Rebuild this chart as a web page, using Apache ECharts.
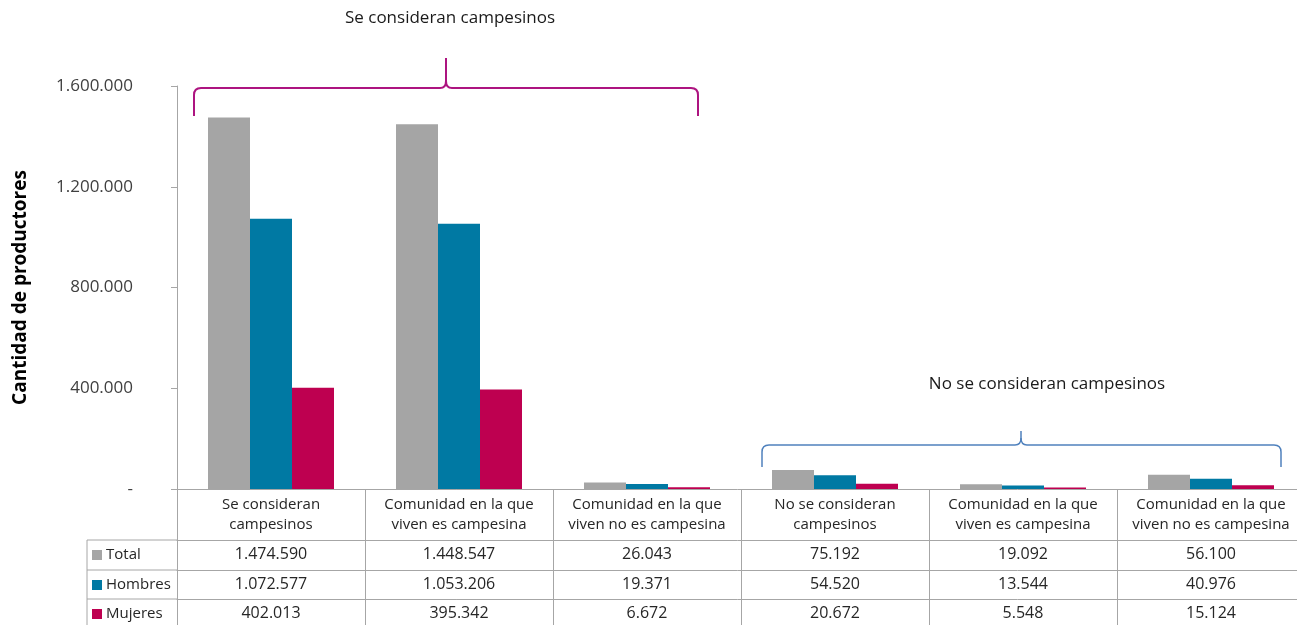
<!DOCTYPE html>
<html>
<head>
<meta charset="utf-8">
<script src="https://cdn.jsdelivr.net/npm/echarts@6/dist/echarts.min.js"></script>
<style>
  html, body { margin: 0; padding: 0; background: #fff; }
  #chart { width: 1297px; height: 625px; }
</style>
</head>
<body>
<div id="chart"></div>
<script>
// categorías (con salto de línea como en la tabla del original)
const categorias = [
  "Se consideran\ncampesinos",
  "Comunidad en la que\nviven es campesina",
  "Comunidad en la que\nviven no es campesina",
  "No se consideran\ncampesinos",
  "Comunidad en la que\nviven es campesina",
  "Comunidad en la que\nviven no es campesina"
];
const total   = [1474590, 1448547, 26043, 75192, 19092, 56100];
const hombres = [1072577, 1053206, 19371, 54520, 13544, 40976];
const mujeres = [402013, 395342, 6672, 20672, 5548, 15124];
const series_nombres = ["Total", "Hombres", "Mujeres"];
const yTicks = { min: 0, max: 1600000, interval: 400000 };

const colores = ["#A5A5A5", "#0079A3", "#BE0050"];
const gris = "#A6A6A6";
const fuente = "'Open Sans', 'Noto Sans', sans-serif";

function fmt(n) {
  return String(n).replace(/\B(?=(\d{3})+(?!\d))/g, ".");
}

const chart = echarts.init(document.getElementById("chart"));
const filas = [total, hombres, mujeres];
const offsets = [51, 81, 110];

const xAxes = [{
  type: "category",
  data: categorias,
  axisLine: { lineStyle: { color: gris, width: 1 } },
  axisTick: { show: true, length: 136, lineStyle: { color: gris } },
  axisLabel: {
    interval: 0, margin: 6, color: "#262626", fontSize: 15,
    lineHeight: 20, fontFamily: fuente
  }
}];
filas.forEach((fila, i) => {
  xAxes.push({
    type: "category",
    data: categorias,
    position: "bottom",
    offset: offsets[i],
    axisLine: { lineStyle: { color: gris, width: 1 } },
    axisTick: { show: false },
    axisLabel: {
      interval: 0, margin: 6, color: "#262626", fontSize: 16,
      fontFamily: fuente,
      formatter: (v, idx) => fmt(fila[idx])
    }
  });
});

// columna de leyenda de la tabla
const leyenda = [
  { type: "line", shape: { x1: 87, y1: 540, x2: 87, y2: 625 }, style: { stroke: gris, lineWidth: 1 } }
];
[540, 570, 599].forEach((y, i) => {
  leyenda.push({ type: "line", shape: { x1: 87, y1: y, x2: 177, y2: y }, style: { stroke: gris, lineWidth: 1 } });
  leyenda.push({ type: "rect", shape: { x: 92, y: y + 10, width: 10, height: 10 }, style: { fill: colores[i] } });
  leyenda.push({
    type: "text", x: 106, y: y + 15,
    style: { text: series_nombres[i], fill: "#262626", fontSize: 15, fontFamily: fuente, verticalAlign: "middle" }
  });
});

// llave: extremos x0..x1, línea en y, puntas bajan a yb, pico sube a yt en xc
function llave(x0, x1, xc, y, yb, yt, color, w) {
  const r = 7;
  const st = { stroke: color, lineWidth: w, fill: null };
  return [
    { type: "line", shape: { x1: x0, y1: yb, x2: x0, y2: y + r }, style: st },
    { type: "bezierCurve", shape: { x1: x0, y1: y + r, cpx1: x0, cpy1: y, x2: x0 + r, y2: y }, style: st },
    { type: "line", shape: { x1: x0 + r, y1: y, x2: xc - 6, y2: y }, style: st },
    { type: "bezierCurve", shape: { x1: xc - 6, y1: y, cpx1: xc, cpy1: y, x2: xc, y2: y - 7 }, style: st },
    { type: "line", shape: { x1: xc, y1: y - 7, x2: xc, y2: yt }, style: st },
    { type: "bezierCurve", shape: { x1: xc + 6, y1: y, cpx1: xc, cpy1: y, x2: xc, y2: y - 7 }, style: st },
    { type: "line", shape: { x1: xc + 6, y1: y, x2: x1 - r, y2: y }, style: st },
    { type: "bezierCurve", shape: { x1: x1 - r, y1: y, cpx1: x1, cpy1: y, x2: x1, y2: y + r }, style: st },
    { type: "line", shape: { x1: x1, y1: y + r, x2: x1, y2: yb }, style: st }
  ];
}

const llaves = [].concat(
  llave(194, 698, 446, 88, 116, 58, "#AD1480", 2),
  llave(762, 1281, 1021, 445, 467, 431, "#4F81BD", 1.5),
  [
    {
      type: "text", x: 450, y: 18,
      style: { text: "Se consideran campesinos", fill: "#1a1a1a", fontSize: 17, fontFamily: fuente, align: "center", verticalAlign: "middle" }
    },
    {
      type: "text", x: 1047, y: 384,
      style: { text: "No se consideran campesinos", fill: "#1a1a1a", fontSize: 17, fontFamily: fuente, align: "center", verticalAlign: "middle" }
    }
  ]
);

const option = {
  animation: false,
  textStyle: { fontFamily: fuente },
  grid: { left: 177, right: -8, top: 86, bottom: 136, containLabel: false, outerBoundsMode: "none" },
  xAxis: xAxes,
  yAxis: {
    type: "value",
    min: yTicks.min, max: yTicks.max, interval: yTicks.interval,
    name: "Cantidad de productores",
    nameLocation: "middle",
    nameGap: 147,
    nameTextStyle: { fontSize: 19, fontWeight: "bold", color: "#000", fontFamily: fuente },
    axisLine: { show: true, lineStyle: { color: gris } },
    axisTick: { show: true, length: 6, lineStyle: { color: gris } },
    splitLine: { show: false },
    axisLabel: {
      margin: 44, color: "#404040", fontSize: 17, fontFamily: fuente,
      formatter: v => (v === 0 ? "-" : fmt(v))
    }
  },
  series: filas.map((fila, i) => ({
    name: series_nombres[i],
    type: "bar",
    data: fila,
    barWidth: 42,
    barGap: "0%",
    itemStyle: { color: colores[i] }
  })),
  graphic: leyenda.concat(llaves)
};
chart.setOption(option);
</script>
</body>
</html>
